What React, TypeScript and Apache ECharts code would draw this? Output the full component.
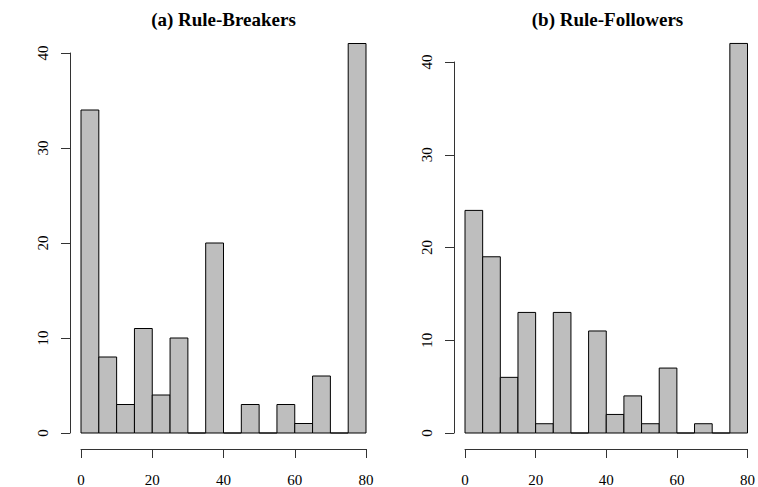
import React, { useEffect, useRef } from "react";
import * as echarts from "echarts";

const binStarts = [0, 5, 10, 15, 20, 25, 30, 35, 40, 45, 50, 55, 60, 65, 70, 75];
const binEnds = [5, 10, 15, 20, 25, 30, 35, 40, 45, 50, 55, 60, 65, 70, 75, 80];
const breakersCounts = [34, 8, 3, 11, 4, 10, 0, 20, 0, 3, 0, 3, 1, 6, 0, 41];
const followersCounts = [24, 19, 6, 13, 1, 13, 0, 11, 2, 4, 1, 7, 0, 1, 0, 42];
const titles = ["(a) Rule-Breakers", "(b) Rule-Followers"];
const xTicks = { min: 0, max: 80, interval: 20 };
const yTicks = { min: 0, max: 40, interval: 10 };

const FONT = "'Liberation Serif', 'Times New Roman', serif";

export default function App() {
  const ref = useRef<HTMLDivElement>(null);
  useEffect(() => {
    document.body.style.margin = "0";
    const chart = echarts.init(ref.current!, null, { renderer: "svg" });
    const mk = (counts: number[]) =>
      binStarts.map((s, i) => [s, binEnds[i], counts[i]]);
    const renderItem = (params: any, api: any) => {
      const s = api.value(0);
      const e = api.value(1);
      const c = api.value(2);
      const p0 = api.coord([s, 0]);
      const p1 = api.coord([e, c]);
      return {
        type: "rect",
        shape: { x: p0[0], y: p1[1], width: p1[0] - p0[0], height: p0[1] - p1[1] },
        style: { fill: "#BEBEBE", stroke: "#000", lineWidth: 1 },
      };
    };
    const axisLine = { show: true, onZero: false, lineStyle: { color: "#333", width: 1 } };
    const axisTick = { show: true, length: 9, lineStyle: { color: "#333", width: 1 } };
    const xAxis = [0, 1].map((g) => ({
      type: "value",
      gridIndex: g,
      ...xTicks,
      position: "bottom",
      offset: 16,
      axisLine,
      axisTick,
      splitLine: { show: false },
      axisLabel: { margin: 23, fontFamily: FONT, fontSize: 15, color: "#000" },
    }));
    const yAxis = [0, 1].map((g) => ({
      type: "value",
      gridIndex: g,
      ...yTicks,
      position: "left",
      offset: 11,
      axisLine,
      axisTick,
      splitLine: { show: false },
      axisLabel: { rotate: 90, margin: 20, fontFamily: FONT, fontSize: 15, color: "#000" },
    }));
    const titleStyle = { fontFamily: FONT, fontWeight: "bold", fontSize: 19, color: "#000" };
    chart.setOption({
      animation: false,
      backgroundColor: "#fff",
      title: [
        { text: titles[0], left: 223.5, top: 10, textAlign: "center", padding: 0, textStyle: titleStyle },
        { text: titles[1], left: 607.5, top: 10, textAlign: "center", padding: 0, textStyle: titleStyle },
      ],
      grid: [
        { left: 81, right: 392, top: 53, bottom: 52 },
        { left: 465, right: 8, top: 62, bottom: 52 },
      ],
      xAxis,
      yAxis,
      series: [
        { type: "custom", xAxisIndex: 0, yAxisIndex: 0, clip: false, renderItem,
          encode: { x: [0, 1], y: 2 }, data: mk(breakersCounts) },
        { type: "custom", xAxisIndex: 1, yAxisIndex: 1, clip: false, renderItem,
          encode: { x: [0, 1], y: 2 }, data: mk(followersCounts) },
      ],
    } as any);
    return () => chart.dispose();
  }, []);
  return <div ref={ref} style={{ width: 758, height: 487 }} />;
}
